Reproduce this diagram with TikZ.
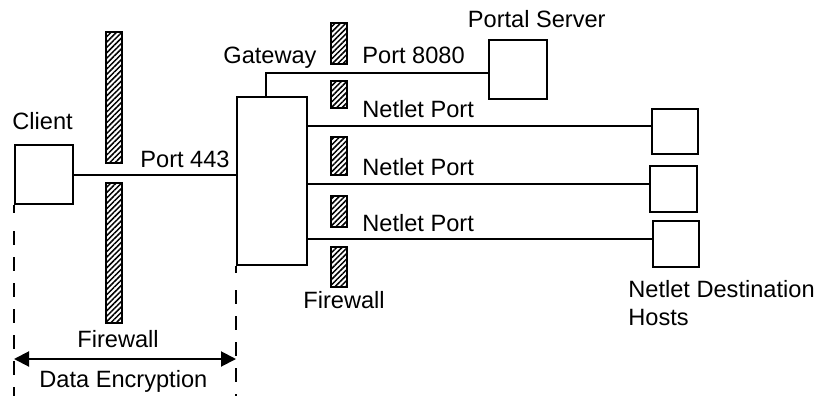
\documentclass[tikz,border=0pt]{standalone}
\usepackage{fontspec}
\setmainfont{Liberation Sans}
\usetikzlibrary{patterns.meta,arrows.meta}
\begin{document}
\begin{tikzpicture}[x=0.5pt,y=-0.5pt,
  box/.style={draw,line width=1pt},
  wall/.style={draw,line width=0.9pt,pattern={Lines[angle=45,distance=1.9pt,line width=0.75pt]}},
  conn/.style={line width=1pt},
  lbl/.style={inner sep=0pt,anchor=base west,font=\fontsize{11.8}{14}\selectfont},
  dsh/.style={line width=1pt,dash pattern=on 7pt off 6pt}]
\useasboundingbox (0,0) rectangle (819,396);
% boxes
\node[box,minimum width=29pt,minimum height=29.5pt,inner sep=0pt,anchor=north west] (client) at (14,144) {};
\node[box,minimum width=35pt,minimum height=84pt,inner sep=0pt,anchor=north west] (gw) at (236,96) {};
\node[box,minimum width=29pt,minimum height=29.5pt,inner sep=0pt,anchor=north west] (portal) at (488,39) {};
\node[box,minimum width=23pt,minimum height=22.5pt,inner sep=0pt,anchor=north west] (h1) at (651,108) {};
\node[box,minimum width=23.5pt,minimum height=23pt,inner sep=0pt,anchor=north west] (h2) at (649,165) {};
\node[box,minimum width=23pt,minimum height=23pt,inner sep=0pt,anchor=north west] (h3) at (652,220) {};
% firewalls
\path[wall] (106,32) rectangle (122,163);
\path[wall] (106,183) rectangle (122,323);
\path[wall] (331,23) rectangle (347,64);
\path[wall] (331,81) rectangle (347,108);
\path[wall] (331,137) rectangle (347,175);
\path[wall] (331,196) rectangle (347,227);
\path[wall] (331,247) rectangle (347,287);
% connectors
\draw[conn] (client.east) -- (gw.west |- client.east);
\coordinate (gt) at (266,96);
\coordinate (gc) at (266,73);
\draw[conn] (gt) -- (gc) -- (portal.west |- gc);
\coordinate (g1) at (306,126);
\coordinate (g2) at (306,184);
\coordinate (g3) at (306,239);
\draw[conn] (g1) -- (h1.west |- g1);
\draw[conn] (g2) -- (h2.west |- g2);
\draw[conn] (g3) -- (h3.west |- g3);
% dashed extents
\coordinate (cl1) at (14,213);
\coordinate (cl2) at (14,396);
\draw[conn] (client.south west) -- (cl1);
\draw[dsh] ([yshift=-9pt]cl1) -- (cl2);
\coordinate (gl1) at (236,273);
\coordinate (gl2) at (236,396);
\draw[conn] (gw.south west) -- (gl1);
\draw[dsh] ([yshift=-8.5pt]gl1) -- (gl2);
\coordinate (al) at (14,359);
\coordinate (ar) at (236,359);
\draw[conn,{Triangle[length=7.5pt,width=7.5pt]}-{Triangle[length=7.5pt,width=7.5pt]}] (al) -- (ar);
% labels
\node[lbl] (tclient) at (12,129) {Client};
\node[lbl] (t443) at (140,167) {Port 443};
\node[lbl] (tgw) at (223,63) {Gateway};
\node[lbl] (t8080) at (362,63) {Port 8080};
\node[lbl,anchor=base east] (tps) at (606,27) {Portal Server};
\node[lbl] (tn1) at (362,117) {Netlet Port};
\node[lbl] (tn2) at (362,175) {Netlet Port};
\node[lbl] (tn3) at (362,231) {Netlet Port};
\node[lbl] (tfw2) at (303,308) {Firewall};
\node[lbl] (tnd) at (628,297) {Netlet Destination};
\node[lbl] (th) at (628,325) {Hosts};
\node[lbl] (tfw1) at (77,347) {Firewall};
\node[lbl] (tde) at (39,387) {Data Encryption};
\end{tikzpicture}
\end{document}
